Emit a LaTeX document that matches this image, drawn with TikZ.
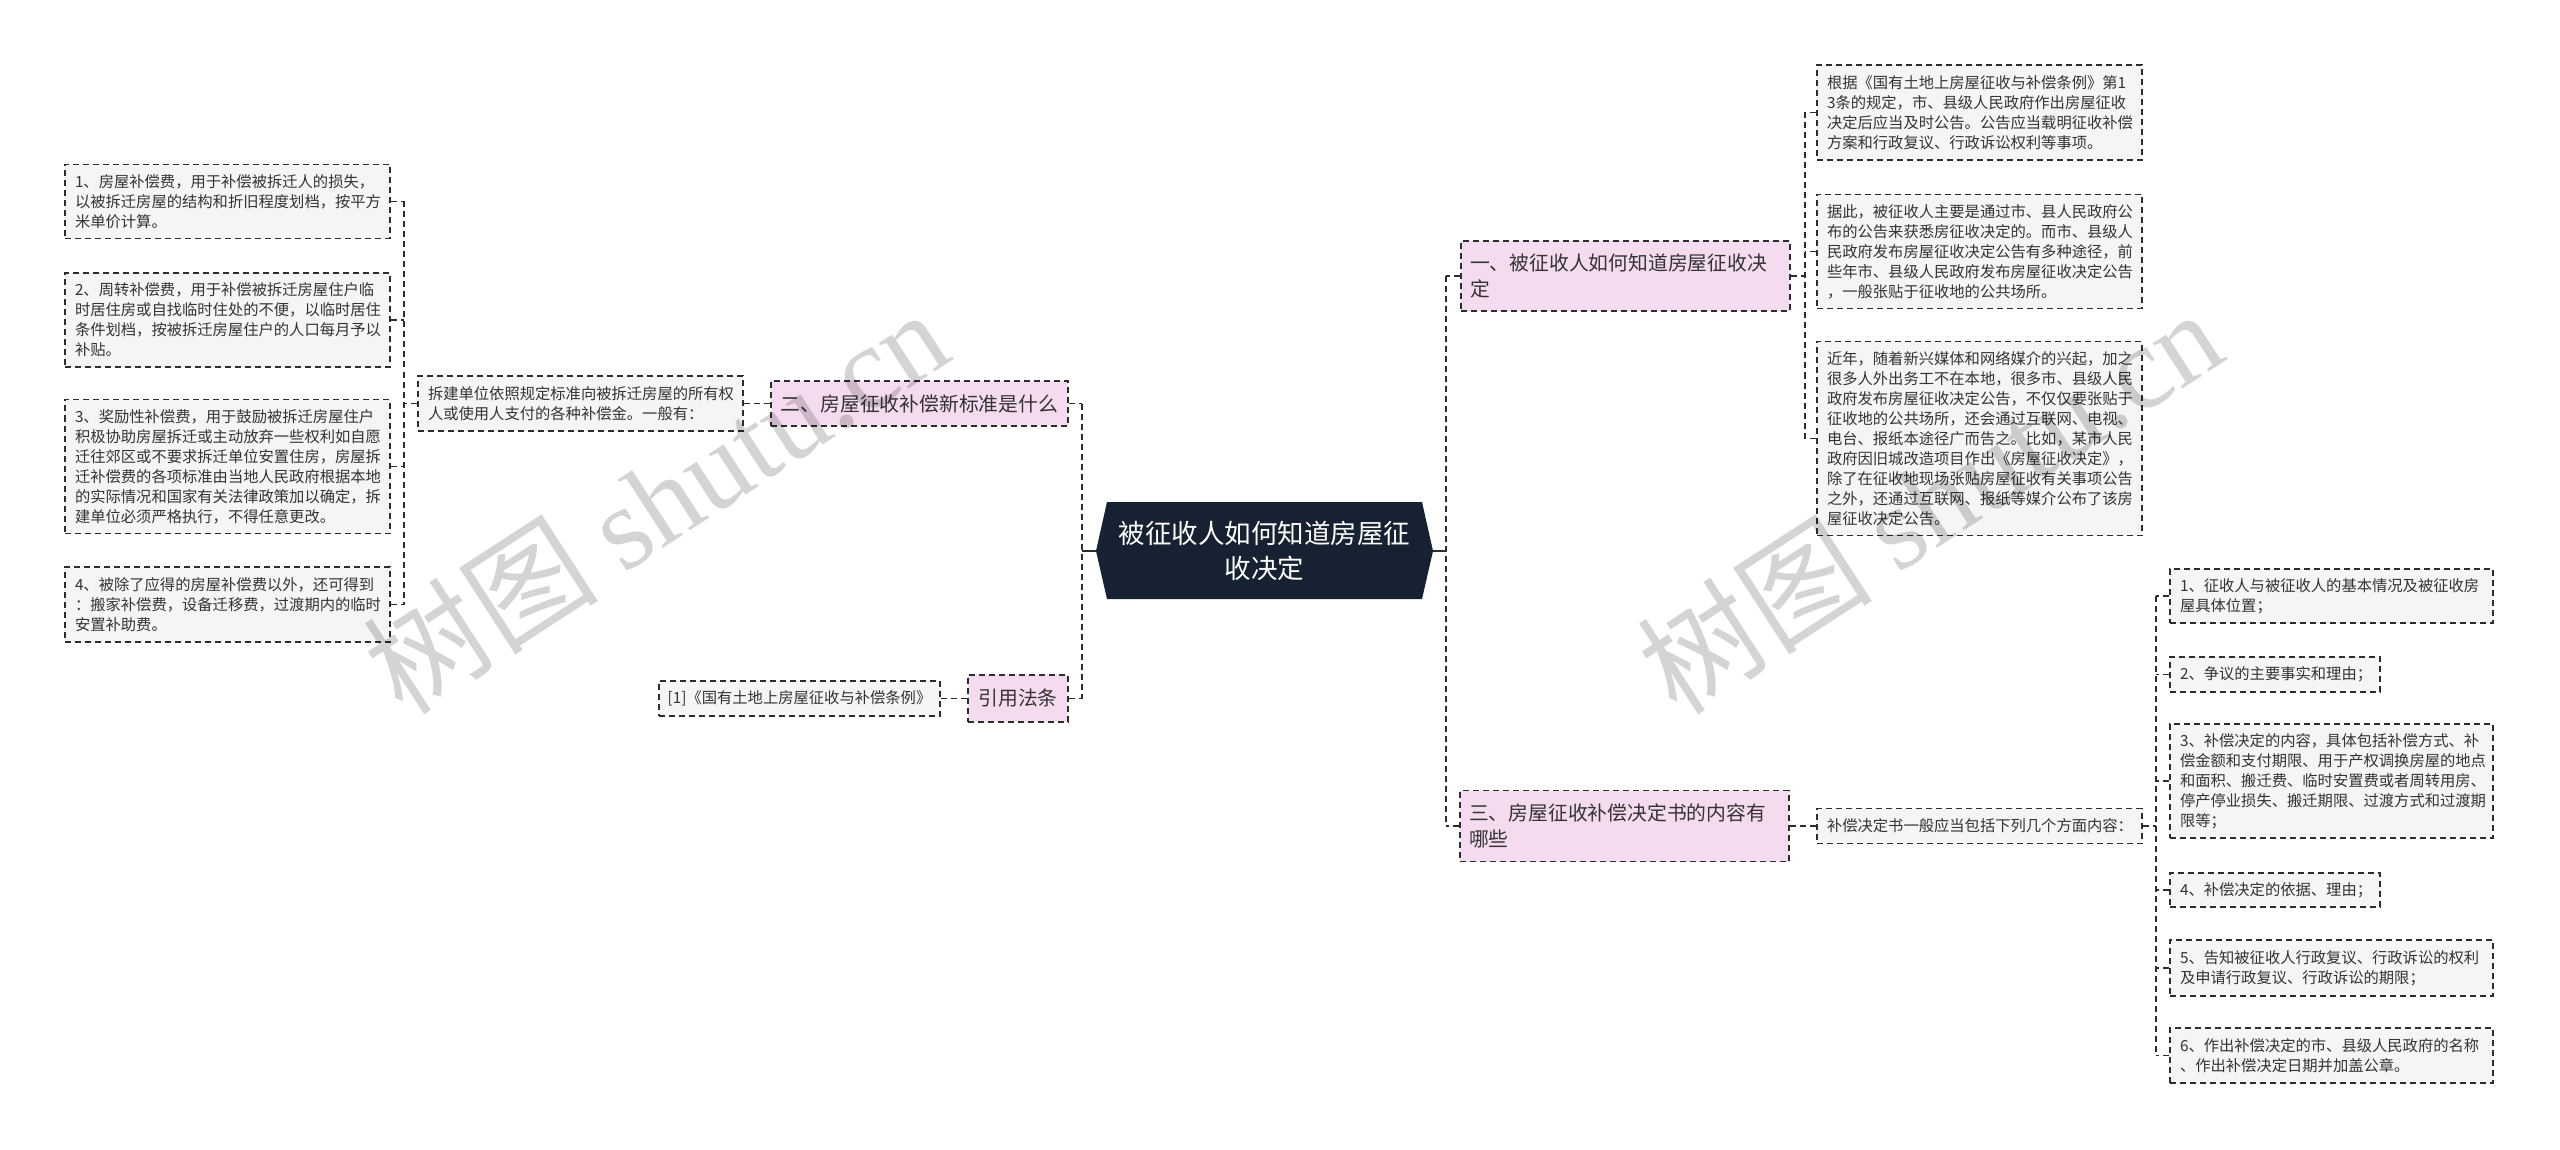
\documentclass[tikz,border=0pt]{standalone}
\usepackage{fontspec}
\setmainfont{Noto Sans CJK SC}
\newfontfamily\wmserif{Liberation Serif}
\usetikzlibrary{calc}
\definecolor{pinkfill}{RGB}{245,219,240}
\definecolor{grayfill}{RGB}{245,245,245}
\definecolor{navy}{RGB}{22,33,49}
\definecolor{edgecol}{RGB}{45,45,45}
\definecolor{txt}{RGB}{51,51,51}
\begin{document}
\begin{tikzpicture}[x=1pt,y=-1pt,
  box/.style={draw=edgecol, line width=1.5pt, dash pattern=on 6pt off 4pt, rectangle, inner ysep=0pt, text=txt},
  leaf/.style={box, fill=grayfill, inner xsep=10pt, font=\fontsize{15.3}{20}\selectfont, align=left},
  topic/.style={box, fill=pinkfill, inner xsep=9pt, font=\fontsize{19.8}{26.7}\selectfont, align=left},
  link/.style={draw=edgecol, line width=1.5pt, dash pattern=on 6pt off 4pt},
  rootlink/.style={draw=edgecol, line width=2pt},
  wm/.style={text=black, opacity=0.17, rotate=33, font=\fontsize{118}{118}\selectfont, inner sep=0pt}]
\fill[white] (0,0) rectangle (2560,1150);
\useasboundingbox (0,0) rectangle (2560,1150);

% central node
\fill[navy] (1096,551) -- (1107,502) -- (1422,502) -- (1433,551) -- (1422,599) -- (1107,599) -- cycle;
\node[text=white, font=\fontsize{26.5}{35}\selectfont, align=center, minimum width=337pt, minimum height=97pt, inner sep=0pt] (root) at (1264.5,551) {被征收人如何知道房屋征\\收决定};

% bus coordinates
\coordinate (xa) at (404,0);
\coordinate (xb) at (1082,0);
\coordinate (xc) at (1446,0);
\coordinate (xd) at (1805,0);
\coordinate (xe) at (2156,0);

% left branch
\node[topic, align=center, minimum width=297pt, minimum height=45pt, inner xsep=0pt] (b2) at (919.5,403.5) {二、房屋征收补偿新标准是什么};
\node[leaf, text width=305pt, minimum height=55pt] (b2c) at (580.5,403.5) {拆建单位依照规定标准向被拆迁房屋的所有权\\人或使用人支付的各种补偿金。一般有：};
\node[leaf, text width=305pt, minimum height=74pt] (L1) at (227.5,201.5) {1、房屋补偿费，用于补偿被拆迁人的损失，\\以被拆迁房屋的结构和折旧程度划档，按平方\\米单价计算。};
\node[leaf, text width=305pt, minimum height=94pt] (L2) at (227.5,320) {2、周转补偿费，用于补偿被拆迁房屋住户临\\时居住房或自找临时住处的不便，以临时居住\\条件划档，按被拆迁房屋住户的人口每月予以\\补贴。};
\node[leaf, text width=305pt, minimum height=134pt] (L3) at (227.5,466.5) {3、奖励性补偿费，用于鼓励被拆迁房屋住户\\积极协助房屋拆迁或主动放弃一些权利如自愿\\迁往郊区或不要求拆迁单位安置住房，房屋拆\\迁补偿费的各项标准由当地人民政府根据本地\\的实际情况和国家有关法律政策加以确定，拆\\建单位必须严格执行，不得任意更改。};
\node[leaf, text width=305pt, minimum height=75pt] (L4) at (227.5,604.5) {4、被除了应得的房屋补偿费以外，还可得到\\：搬家补偿费，设备迁移费，过渡期内的临时\\安置补助费。};
\node[topic, align=center, minimum width=100pt, minimum height=47pt, inner xsep=0pt] (cite) at (1018,698.5) {引用法条};
\node[leaf, align=center, minimum width=281pt, minimum height=35pt, inner xsep=0pt] (cite1) at (799.5,698.5) {[1]《国有土地上房屋征收与补偿条例》};

% right branch
\node[topic, text width=311pt, minimum height=70pt] (b1) at (1625.5,276) {一、被征收人如何知道房屋征收决\\定};
\node[leaf, text width=305pt, minimum height=95pt] (R1) at (1979.5,112.5) {根据《国有土地上房屋征收与补偿条例》第1\\3条的规定，市、县级人民政府作出房屋征收\\决定后应当及时公告。公告应当载明征收补偿\\方案和行政复议、行政诉讼权利等事项。};
\node[leaf, text width=305pt, minimum height=114pt] (R2) at (1979.5,251.5) {据此，被征收人主要是通过市、县人民政府公\\布的公告来获悉房征收决定的。而市、县级人\\民政府发布房屋征收决定公告有多种途径，前\\些年市、县级人民政府发布房屋征收决定公告\\，一般张贴于征收地的公共场所。};
\node[leaf, text width=305pt, minimum height=194pt] (R3) at (1979.5,438.5) {近年，随着新兴媒体和网络媒介的兴起，加之\\很多人外出务工不在本地，很多市、县级人民\\政府发布房屋征收决定公告，不仅仅要张贴于\\征收地的公共场所，还会通过互联网、电视、\\电台、报纸本途径广而告之。比如，某市人民\\政府因旧城改造项目作出《房屋征收决定》，\\除了在征收地现场张贴房屋征收有关事项公告\\之外，还通过互联网、报纸等媒介公布了该房\\屋征收决定公告。};
\node[topic, text width=311pt, minimum height=71pt] (b3) at (1624.5,826) {三、房屋征收补偿决定书的内容有\\哪些};
\node[leaf, text width=305pt, minimum height=35pt] (b3c) at (1979.5,826) {补偿决定书一般应当包括下列几个方面内容：};
\node[leaf, text width=303pt, minimum height=54pt] (S1) at (2331.5,596) {1、征收人与被征收人的基本情况及被征收房\\屋具体位置；};
\node[leaf, text width=190pt, minimum height=35pt] (S2) at (2275,674.5) {2、争议的主要事实和理由；};
\node[leaf, text width=303pt, minimum height=114pt] (S3) at (2331.5,781) {3、补偿决定的内容，具体包括补偿方式、补\\偿金额和支付期限、用于产权调换房屋的地点\\和面积、搬迁费、临时安置费或者周转用房、\\停产停业损失、搬迁期限、过渡方式和过渡期\\限等；};
\node[leaf, text width=190pt, minimum height=34pt] (S4) at (2275,890) {4、补偿决定的依据、理由；};
\node[leaf, text width=303pt, minimum height=56pt] (S5) at (2331.5,968) {5、告知被征收人行政复议、行政诉讼的权利\\及申请行政复议、行政诉讼的期限；};
\node[leaf, text width=303pt, minimum height=55pt] (S6) at (2331.5,1055.5) {6、作出补偿决定的市、县级人民政府的名称\\、作出补偿决定日期并加盖公章。};

% connectors: left
\draw[rootlink] (root.west) -- (root.west -| xb);
\draw[link] (b2.east -| xb) -- (cite.east -| xb);
\draw[link] (b2.east) -- (b2.east -| xb);
\draw[link] (cite.east) -- (cite.east -| xb);
\draw[link] (b2.west) -- (b2c.east);
\draw[link] (cite.west) -- (cite1.east);
\draw[link] (b2c.west) -- (b2c.west -| xa);
\draw[link] (L1.east -| xa) -- (L4.east -| xa);
\foreach \n in {L1,L2,L3,L4} \draw[link] (\n.east) -- (\n.east -| xa);

% connectors: right
\draw[rootlink] (root.east) -- (root.east -| xc);
\draw[link] (b1.west -| xc) -- (b3.west -| xc);
\draw[link] (b1.west) -- (b1.west -| xc);
\draw[link] (b3.west) -- (b3.west -| xc);
\draw[link] (b1.east) -- (b1.east -| xd);
\draw[link] (R1.west -| xd) -- (R3.west -| xd);
\foreach \n in {R1,R2,R3} \draw[link] (\n.west) -- (\n.west -| xd);
\draw[link] (b3.east) -- (b3c.west);
\draw[link] (b3c.east) -- (b3c.east -| xe);
\draw[link] (S1.west -| xe) -- (S6.west -| xe);
\foreach \n in {S1,S2,S3,S4,S5,S6} \draw[link] (\n.west) -- (\n.west -| xe);

% watermarks
\node[wm] (wm1) at (655,500) {树图 {\wmserif shutu.cn}};
\node[wm] (wm2) at (1929,500) {树图 {\wmserif shutu.cn}};
\end{tikzpicture}
\end{document}
